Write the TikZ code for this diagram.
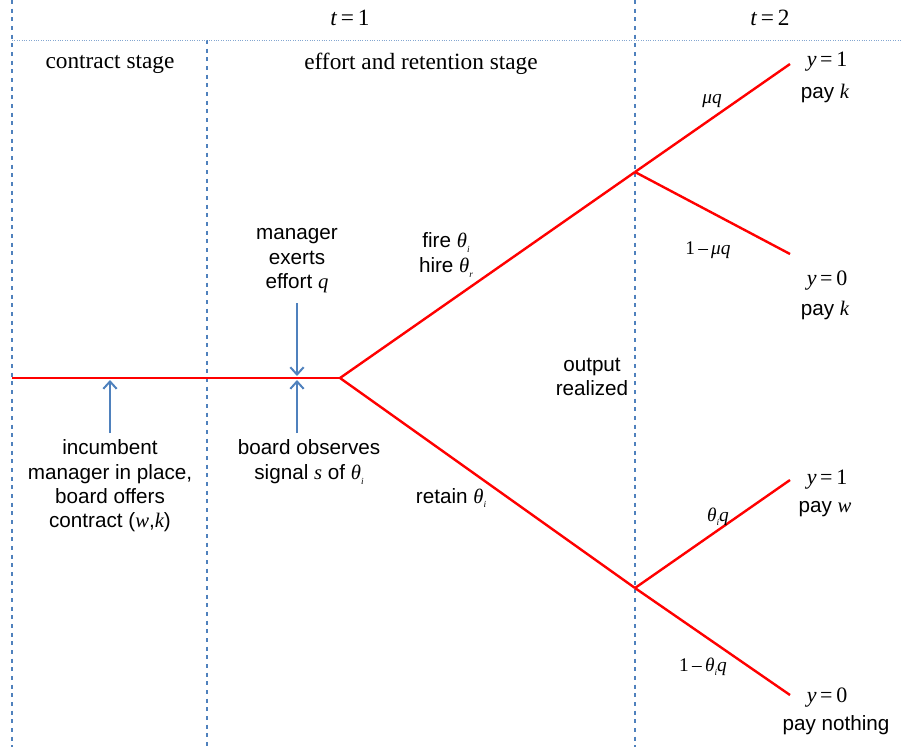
\documentclass[tikz,border=0pt]{standalone}
\usepackage{fontspec}
\setmainfont{Liberation Sans}
\newfontfamily\tms{Liberation Serif}
\usetikzlibrary{arrows.meta}
\newcommand{\mth}[1]{{\tms\itshape #1}}
\newcommand{\thsub}[1]{{\tms\itshape θ}\raisebox{-0.45ex}{\tms\itshape\fontsize{7}{8}\selectfont #1}}
\definecolor{gblue}{RGB}{79,129,189}
\definecolor{gred}{RGB}{255,0,0}
\tikzset{
  vline/.style={gblue, line width=1.2pt, dash pattern=on 3pt off 3.5pt},
  hline/.style={gblue!70, line width=0.6pt, dash pattern=on 0.8pt off 1pt},
  branch/.style={gred, line width=1.8pt},
  barrow/.style={gblue, line width=1.5pt, -{Straight Barb[length=5.5pt,width=10pt,line width=1.5pt]}},
  sans/.style={font=\fontsize{15.5}{18.3}\selectfont, align=center, inner sep=1pt},
  serif/.style={font=\tms\fontsize{17.5}{20}\selectfont, inner sep=1pt},
  leaf/.style={font=\tms\fontsize{16.5}{19}\selectfont, inner sep=1pt},
  big/.style={font=\tms\fontsize{17.5}{20}\selectfont, inner sep=1pt},
  prob/.style={font=\tms\fontsize{14.5}{16}\selectfont, inner sep=1pt},
}
\begin{document}
\begin{tikzpicture}[x=0.75pt,y=-0.75pt]
\useasboundingbox (0,0) rectangle (902,747);
% grid lines
\draw[vline] (12,0) -- (12,747);
\draw[vline] (207,40) -- (207,747);
\draw[vline] (635,0) -- (635,747);
\draw[hline] (12,40) -- (902,40);
% headings
\node[big] (t1) at (350,18) {\mth{t}\,=\,1};
\node[big] (t2) at (770,18) {\mth{t}\,=\,2};
\node[serif] (cs) at (110,64) {contract stage};
\node[serif] (es) at (421,64) {effort and retention stage};
% tree
\coordinate (start) at (12,378);
\coordinate (b0) at (340,378);
\coordinate (b1) at (635,172);
\coordinate (b2) at (635,588);
\coordinate (l1) at (790,64);
\coordinate (l2) at (790,254);
\coordinate (l3) at (790,480);
\coordinate (l4) at (790,695);
\draw[branch] (start) -- (b0);
\draw[branch] (b0) -- (b1);
\draw[branch] (b0) -- (b2);
\draw[branch] (b1) -- (l1);
\draw[branch] (b1) -- (l2);
\draw[branch] (b2) -- (l3);
\draw[branch] (b2) -- (l4);
% leaf labels
\node[leaf] (y1) at (827,62) {\mth{y}\,=\,1};
\node[sans] (p1) at (825,93) {pay \mth{k}};
\node[leaf] (y2) at (827,281) {\mth{y}\,=\,0};
\node[sans] (p2) at (825,310) {pay \mth{k}};
\node[leaf] (y3) at (827,480) {\mth{y}\,=\,1};
\node[sans] (p3) at (825,509) {pay \mth{w}};
\node[leaf] (y4) at (827,698) {\mth{y}\,=\,0};
\node[sans] (p4) at (836,725) {pay nothing};
% probabilities
\node[prob] (q1) at (712,101) {\mth{μq}};
\node[prob] (q2) at (708,250) {1\,–\,\mth{μq}};
\node[prob] (q3) at (718,517) {\thsub{i}\mth{q}};
\node[prob] (q4) at (703,667) {1\,–\,\thsub{i}\mth{q}};
% branch labels
\node[sans] (fire) at (446,255) {fire \thsub{i}\\hire \thsub{r}};
\node[sans] (ret) at (451,498) {retain \thsub{i}};
\node[sans] (out) at (592,377) {output\\realized};
% events
\node[sans] (eff) at (297,261) {manager\\exerts\\effort \mth{q}};
\node[sans] (obs) at (309,462) {board observes\\signal \mth{s} of \thsub{i}};
\node[sans] (inc) at (110,486) {incumbent\\manager in place,\\board offers\\contract (\mth{w},\mth{k})};
\coordinate (e1) at (297,376);
\coordinate (e2) at (297,380);
\coordinate (e3) at (110,380);
\draw[barrow] (297,303) -- (e1);
\draw[barrow] (297,433) -- (e2);
\draw[barrow] (110,433) -- (e3);
\end{tikzpicture}
\end{document}
